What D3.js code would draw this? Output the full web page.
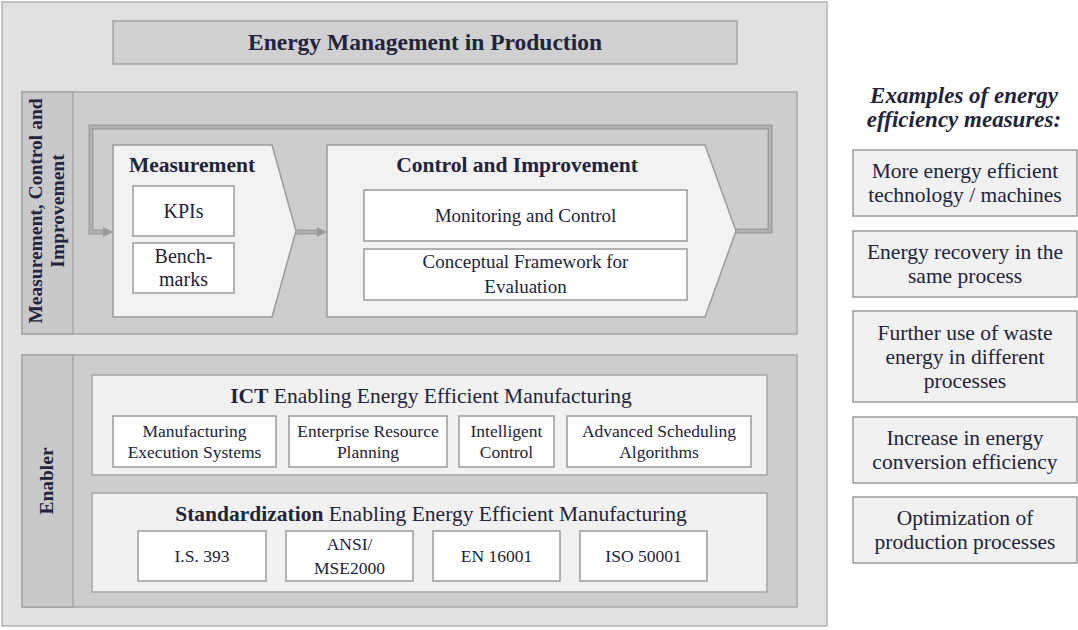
<!DOCTYPE html>
<html>
<head>
<meta charset="utf-8">
<script src="https://cdn.jsdelivr.net/npm/d3@7"></script>
<style>
  body { margin: 0; background: #fff; }
  text { font-family: "Liberation Serif", "Times New Roman", serif; fill: #23233a; }
</style>
</head>
<body>
<svg id="chart" width="1078" height="630"></svg>
<script>
// texts of the diagram
const mainTitle = "Energy Management in Production"
const sideLabels = [["Measurement, Control and", "Improvement"], ["Enabler"]]
const stageTitles = ["Measurement", "Control and Improvement"]
const measureItems = [["KPIs"], ["Bench-", "marks"]]
const controlItems = [["Monitoring and Control"], ["Conceptual Framework for", "Evaluation"]]
const panelTitles = [["ICT", " Enabling Energy Efficient Manufacturing"], ["Standardization", " Enabling Energy Efficient Manufacturing"]]
const ictTools = [["Manufacturing", "Execution Systems"], ["Enterprise Resource", "Planning"], ["Intelligent", "Control"], ["Advanced Scheduling", "Algorithms"]]
const standards = [["I.S. 393"], ["ANSI/", "MSE2000"], ["EN  16001"], ["ISO 50001"]]
const examplesTitle = ["Examples of energy", "efficiency measures:"]
const examples = [
	["More energy efficient", "technology / machines"],
	["Energy recovery in the", "same process"],
	["Further use of waste", "energy in different", "processes"],
	["Increase in energy", "conversion efficiency"],
	["Optimization of", "production processes"]
]

// layout (pixels)
const ictX = [113, 289, 459, 567], ictW = [163, 158, 95, 184]
const stdX = [138, 286, 433, 580], stdW = [128, 127, 127, 127]
const exY = [150, 231, 311, 417, 497], exH = [66, 66, 91, 66, 66]

const svg = d3.select("#chart")

function box(g, x, y, w, h, lines, o) {
	o = Object.assign({ fill: "#fff", stroke: "#9b9b9d", size: 17, lh: 22, weight: "normal" }, o)
	g.append("rect").attr("x", x).attr("y", y).attr("width", w).attr("height", h)
		.attr("fill", o.fill).attr("stroke", o.stroke).attr("stroke-width", 1.5)
	label(g, x + w / 2, y + h / 2, lines, o)
}

function label(g, cx, cy, lines, o) {
	let t = g.append("text").attr("text-anchor", "middle")
		.style("font-size", o.size + "px").style("font-weight", o.weight)
	if (o.italic) t.style("font-style", "italic")
	lines.forEach((s, i) => {
		t.append("tspan").attr("x", cx)
			.attr("y", cy + (i - (lines.length - 1) / 2) * o.lh + o.size * 0.33)
			.text(s)
	})
	return t
}

function arrowHead(g, x, y) {
	g.append("path").attr("d", `M${x},${y} L${x - 10},${y - 5} L${x - 10},${y + 5} Z`).attr("fill", "#9a9a9c")
}

// outer frame + title
svg.append("rect").attr("x", 2).attr("y", 2).attr("width", 825).attr("height", 624)
	.attr("fill", "#e1e1e3").attr("stroke", "#b2b2b4").attr("stroke-width", 1.5)
box(svg, 113, 21, 624, 43, [mainTitle], { fill: "#d0d0d2", stroke: "#a4a4a6", size: 23.5, weight: "bold" })

// two sections with side strips
let sections = [{ y: 92, h: 242 }, { y: 355, h: 252 }]
sections.forEach((s, i) => {
	let g = svg.append("g")
	g.append("rect").attr("x", 22).attr("y", s.y).attr("width", 775).attr("height", s.h)
		.attr("fill", "#cdcdcf").attr("stroke", "#a6a6a8").attr("stroke-width", 1.5)
	g.append("rect").attr("x", 22).attr("y", s.y).attr("width", 51).attr("height", s.h)
		.attr("fill", "#c9c9cb").attr("stroke", "#a6a6a8").attr("stroke-width", 1.5)
	let cy = i == 0 ? 211 : s.y + s.h / 2
	let lab = sideLabels[i]
	let t = g.append("text").attr("text-anchor", "middle")
		.attr("transform", `translate(${47},${cy}) rotate(-90)`)
		.style("font-size", "19.5px").style("font-weight", "bold")
	lab.forEach((l, k) => {
		t.append("tspan").attr("x", 0).attr("y", (k - (lab.length - 1) / 2) * 22 + 6).text(l)
	})
})

// feedback loop
let loop = svg.append("g")
let loopPath = "M736,231 L770,231 L770,127 L91,127 L91,232 L103,232"
loop.append("path").attr("d", loopPath).attr("fill", "none").attr("stroke", "#9e9ea0").attr("stroke-width", 5)
loop.append("path").attr("d", loopPath).attr("fill", "none").attr("stroke", "#b9b9bb").attr("stroke-width", 1.5)
arrowHead(loop, 113, 232)
loop.append("line").attr("x1", 296).attr("y1", 232).attr("x2", 318).attr("y2", 232).attr("stroke", "#9e9ea0").attr("stroke-width", 5)
loop.append("line").attr("x1", 296).attr("y1", 232).attr("x2", 318).attr("y2", 232).attr("stroke", "#b9b9bb").attr("stroke-width", 1.5)
arrowHead(loop, 327, 232)

// stage pentagons
let stages = [{ x: 113, r: 272, tip: 296 }, { x: 327, r: 705, tip: 736 }]
stages.forEach((s, i) => {
	svg.append("path").attr("d", `M${s.x},145 L${s.r},145 L${s.tip},231 L${s.r},317 L${s.x},317 Z`)
		.attr("fill", "#f2f2f2").attr("stroke", "#9b9b9d").attr("stroke-width", 1.5)
	label(svg, i == 0 ? 192 : 517, 165, [stageTitles[i]], { size: 21.5, lh: 22, weight: "bold" })
})
measureItems.forEach((m, i) => {
	box(svg, 133, i == 0 ? 186 : 243, 101, 50, m, { size: 20, lh: 23 })
})
controlItems.forEach((m, i) => {
	box(svg, 364, i == 0 ? 190 : 249, 323, 51, m, { size: 19, lh: 25 })
})

// enabler panels
let panels = [{ y: 375, h: 100, items: ictTools, xs: ictX, ws: ictW, by: 416, bh: 51, lh: 21 },
	{ y: 493, h: 99, items: standards, xs: stdX, ws: stdW, by: 531, bh: 50, lh: 24 }]
panels.forEach((p, i) => {
	svg.append("rect").attr("x", 92).attr("y", p.y).attr("width", 675).attr("height", p.h)
		.attr("fill", "#f1f1f1").attr("stroke", "#a6a6a8").attr("stroke-width", 1.5)
	let t = svg.append("text").attr("text-anchor", "middle").attr("x", 431).attr("y", p.y + 28)
		.style("font-size", "21.5px")
	t.append("tspan").style("font-weight", "bold").text(panelTitles[i][0])
	t.append("tspan").text(panelTitles[i][1])
	p.items.forEach((it, k) => {
		box(svg, p.xs[k], p.by, p.ws[k], p.bh, it, { size: 17.5, lh: p.lh })
	})
})

// examples on the right
label(svg, 964, 107, examplesTitle, { size: 23, lh: 24, weight: "bold", italic: true })
examples.forEach((e, i) => {
	box(svg, 853, exY[i], 224, exH[i], e, { fill: "#f1f1f1", stroke: "#9b9b9d", size: 21.5, lh: 24 })
})
</script>
</body>
</html>
